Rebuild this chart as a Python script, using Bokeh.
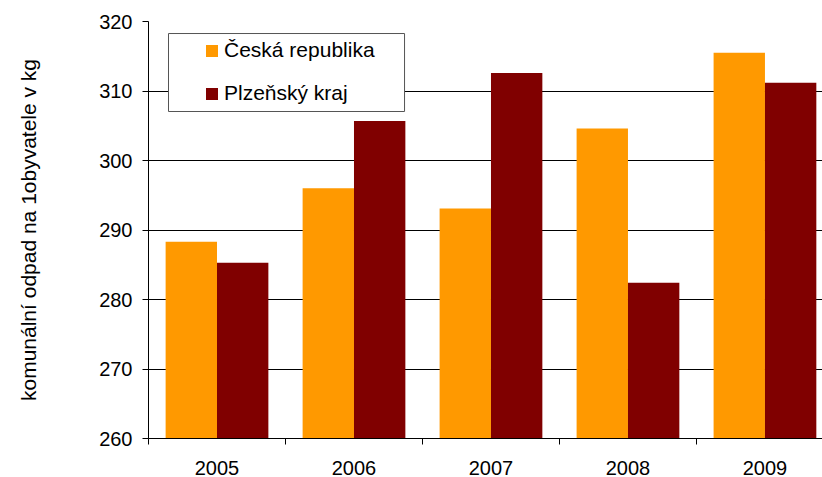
from bokeh.plotting import figure
from bokeh.models import Range1d, FixedTicker, Legend, LegendItem, BoxAnnotation, ColumnDataSource
from bokeh.transform import dodge
from bokeh.embed import file_html
from bokeh.resources import INLINE

years = ["2005", "2006", "2007", "2008", "2009"]
ceska = [288.3, 296.0, 293.1, 304.6, 315.5]
plzen = [285.3, 305.7, 312.6, 282.4, 311.2]
y_ticks = [260, 270, 280, 290, 300, 310, 320]
series_names = ["Česká republika", "Plzeňský kraj"]
colors = ["#FF9900", "#800000"]
y_label = "komunální odpad na 1obyvatele v kg"

xs = list(range(len(years)))
src = ColumnDataSource(dict(x=xs, cr=ceska, pk=plzen))

FONT = "Liberation Sans"

p = figure(width=822, height=477, output_backend="svg", toolbar_location=None,
           x_range=Range1d(-0.5, 4.42), y_range=Range1d(260, 320),
           min_border_left=148, min_border_right=0, min_border_top=21, min_border_bottom=39)
p.outline_line_color = None
p.background_fill_color = "white"

bw = 0.375
r1 = p.vbar(x=dodge("x", -bw / 2, range=p.x_range), top="cr", width=bw, source=src,
            fill_color=colors[0], line_color=None)
r2 = p.vbar(x=dodge("x", bw / 2, range=p.x_range), top="pk", width=bw, source=src,
            fill_color=colors[1], line_color=None)

# x axis: labels at centers, ticks at category boundaries
bounds = [i - 0.5 for i in xs] + [xs[-1] + 0.5]
p.xaxis.ticker = FixedTicker(ticks=xs, minor_ticks=bounds)
p.xaxis.major_label_overrides = {i: y for i, y in zip(xs, years)}
p.xaxis.major_tick_out = 0
p.xaxis.major_tick_in = 0
p.xaxis.minor_tick_out = 6
p.xaxis.minor_tick_in = 0
p.xaxis.minor_tick_line_color = "black"
p.xaxis.axis_line_color = "black"
p.xaxis.major_label_standoff = 16
p.xaxis.major_label_text_font = FONT
p.xaxis.major_label_text_font_size = "20px"
p.xaxis.major_label_text_color = "black"

p.yaxis.ticker = FixedTicker(ticks=y_ticks, minor_ticks=[])
p.yaxis.major_tick_out = 6
p.yaxis.major_tick_in = 0
p.yaxis.major_tick_line_color = "black"
p.yaxis.axis_line_color = "black"
p.yaxis.major_label_standoff = 10
p.yaxis.major_label_text_font = FONT
p.yaxis.major_label_text_font_size = "20px"
p.yaxis.major_label_text_color = "black"
p.yaxis.axis_label = y_label
p.yaxis.axis_label_text_font = FONT
p.yaxis.axis_label_text_font_size = "21px"
p.yaxis.axis_label_text_font_style = "normal"
p.yaxis.axis_label_text_color = "black"
p.yaxis.axis_label_standoff = 56

p.xgrid.grid_line_color = None
p.ygrid.ticker = FixedTicker(ticks=y_ticks, minor_ticks=[])
p.ygrid.grid_line_color = "black"
p.ygrid.grid_line_width = 1

# legend frame (data units)
box = BoxAnnotation(left=-0.354, right=1.369, top=318.27, bottom=307.05,
                    fill_color="white", fill_alpha=1.0,
                    line_color="#555555", line_width=1, line_alpha=1.0)
p.add_layout(box)

legend = Legend(items=[LegendItem(label=series_names[0], renderers=[r1]),
                       LegendItem(label=series_names[1], renderers=[r2])],
                location=(56, 333), padding=0, spacing=19,
                glyph_width=15, glyph_height=15, label_height=20, label_standoff=5,
                label_text_font=FONT, label_text_font_size="21px", label_text_color="black",
                border_line_color=None, background_fill_alpha=0.0)
p.add_layout(legend)

open("out.html", "w").write(file_html(p, INLINE))
